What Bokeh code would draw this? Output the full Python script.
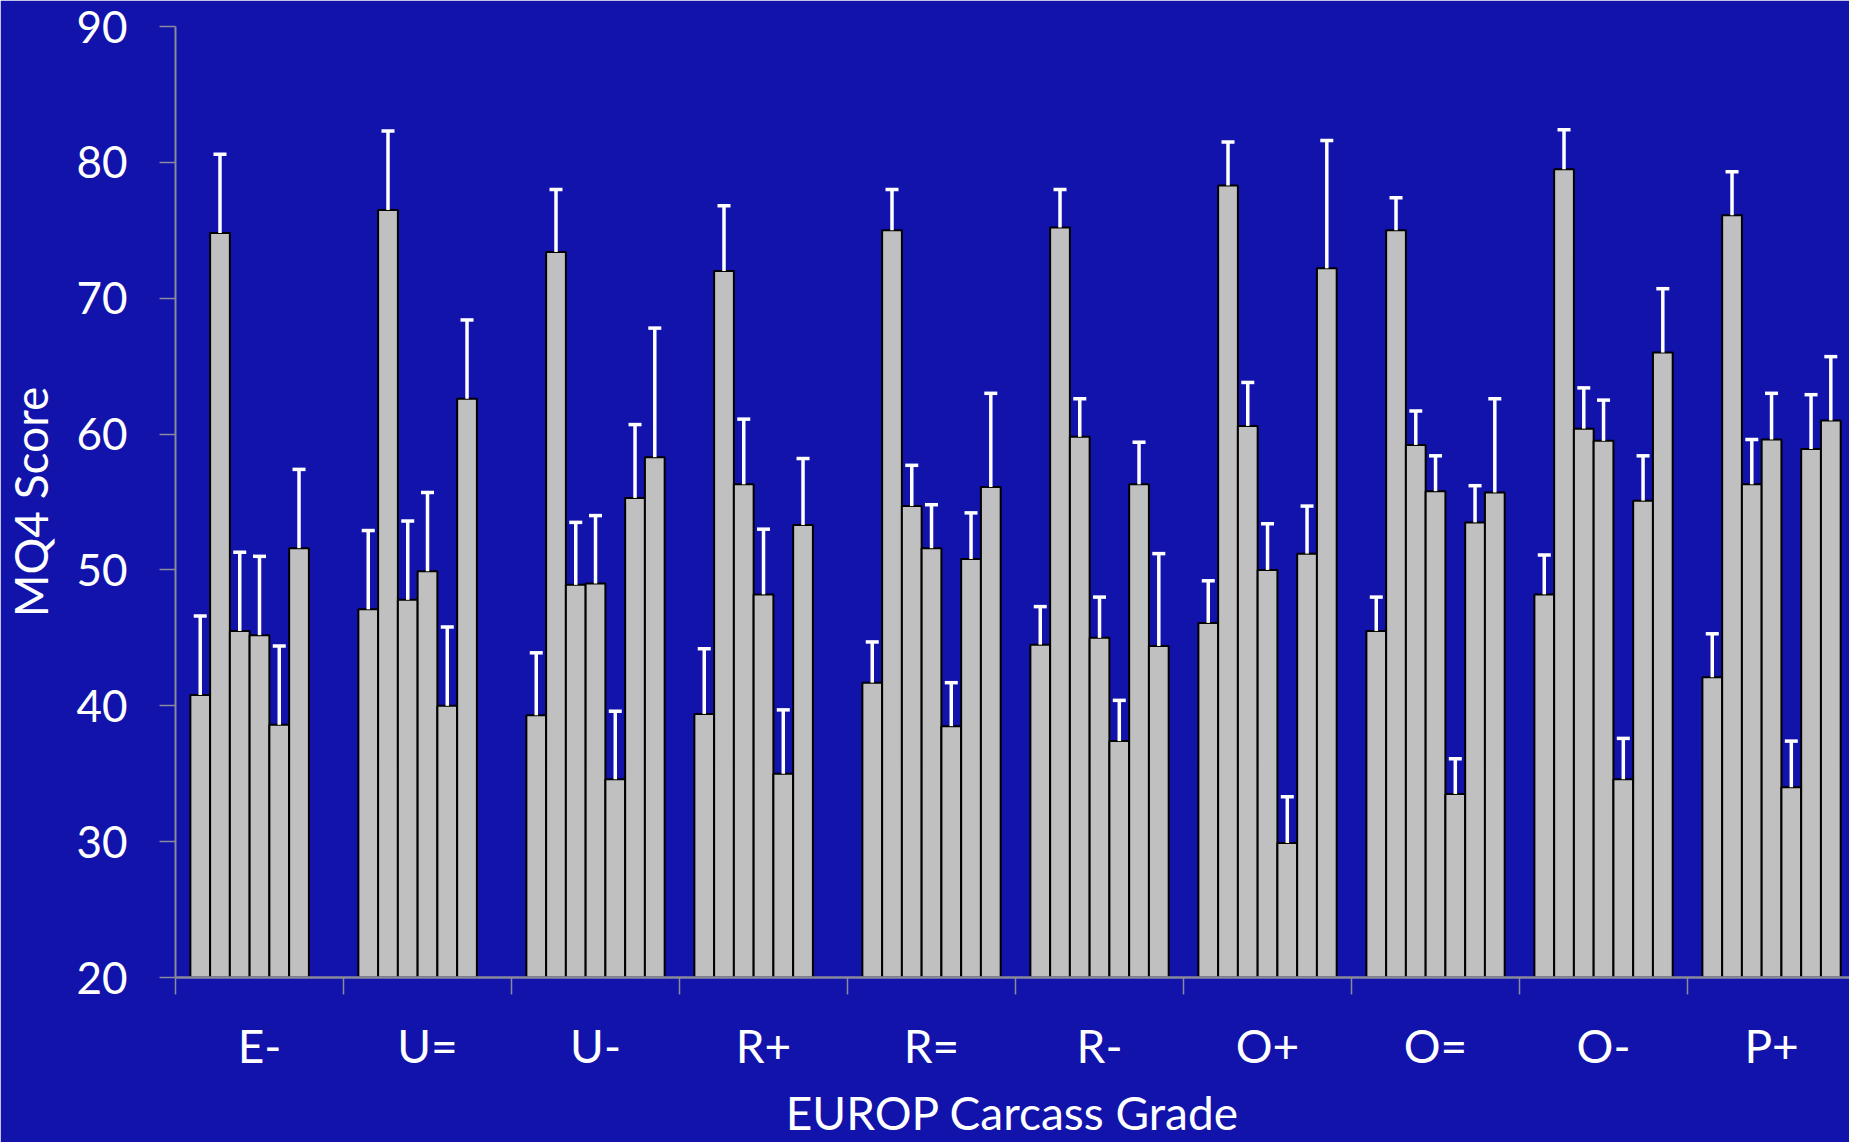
from bokeh.plotting import figure
from bokeh.models import ColumnDataSource, FixedTicker, Range1d, CustomJSTickFormatter
from bokeh.embed import file_html
from bokeh.resources import INLINE

categories = ["E-", "U=", "U-", "R+", "R=", "R-", "O+", "O=", "O-", "P+"]

# Mean MQ4 score for the seven series within each carcass grade (None = no bar)
s1 = [40.8, 47.1, 39.3, 39.4, 41.7, 44.5, 46.1, 45.5, 48.2, 42.1]
s2 = [74.8, 76.5, 73.4, 72.0, 75.0, 75.2, 78.3, 75.0, 79.5, 76.1]
s3 = [45.5, 47.8, 48.9, 56.3, 54.7, 59.8, 60.6, 59.2, 60.4, 56.3]
s4 = [45.2, 49.9, 49.0, 48.2, 51.6, 45.0, 50.0, 55.8, 59.5, 59.6]
s5 = [38.6, 40.0, 34.6, 35.0, 38.5, 37.4, 29.9, 33.5, 34.6, 34.0]
s6 = [51.6, 62.6, 55.3, 53.3, 50.8, 56.3, 51.2, 53.5, 55.1, 58.9]
s7 = [None, None, 58.3, None, 56.1, 44.4, 72.2, 55.7, 66.0, 61.0]

# Upper error (standard error) for each bar
e1 = [5.8, 5.8, 4.6, 4.8, 3.0, 2.8, 3.1, 2.5, 2.9, 3.2]
e2 = [5.8, 5.8, 4.6, 4.8, 3.0, 2.8, 3.2, 2.4, 2.9, 3.2]
e3 = [5.8, 5.8, 4.6, 4.8, 3.0, 2.8, 3.2, 2.5, 3.0, 3.3]
e4 = [5.8, 5.8, 5.0, 4.8, 3.2, 3.0, 3.4, 2.6, 3.0, 3.4]
e5 = [5.8, 5.8, 5.0, 4.7, 3.2, 3.0, 3.4, 2.6, 3.0, 3.4]
e6 = [5.8, 5.8, 5.4, 4.9, 3.4, 3.1, 3.5, 2.7, 3.3, 4.0]
e7 = [None, None, 9.5, None, 6.9, 6.8, 9.4, 6.9, 4.7, 4.7]

y_ticks = [20, 30, 40, 50, 60, 70, 80, 90]

series = [s1, s2, s3, s4, s5, s6, s7]
errors = [e1, e2, e3, e4, e5, e6, e7]

BG = "#1113AA"
AXIS = "#8a8a9a"
FONT = "Lato"

n_series = len(series)
bar_w = 0.1176
group_start = (1.0 - n_series * bar_w) / 2.0

p = figure(width=1849, height=1142, output_backend="svg", toolbar_location=None,
           x_range=Range1d(0, 9.964), y_range=Range1d(20, 90),
           min_border_left=175, min_border_right=0, min_border_top=26, min_border_bottom=164)
p.background_fill_color = BG
p.border_fill_color = BG
p.outline_line_color = BG
p.outline_line_width = 2
p.xgrid.visible = False
p.ygrid.visible = False

for j, (vals, errs) in enumerate(zip(series, errors)):
    xs, tops, ups = [], [], []
    for i, (v, e) in enumerate(zip(vals, errs)):
        if v is None:
            continue
        xs.append(i + group_start + (j + 0.5) * bar_w)
        tops.append(v)
        ups.append(v + e)
    src = ColumnDataSource(dict(x=xs, top=tops, upper=ups))
    p.vbar(x="x", top="top", bottom=20, width=bar_w, source=src,
           fill_color="#c0c0c0", line_color="black", line_width=2)
    p.segment(x0="x", y0="top", x1="x", y1="upper", source=src,
              line_color="white", line_width=3.5)
    p.scatter(x="x", y="upper", source=src, marker="dash", size=13,
              line_color="white", line_width=3.5)

# x axis: labels at category centres, tick marks at category boundaries
xax = p.xaxis[0]
xax.ticker = FixedTicker(ticks=[i + 0.5 for i in range(len(categories))],
                         minor_ticks=list(range(len(categories) + 1)))
xax.formatter = CustomJSTickFormatter(args=dict(labels=categories),
                                      code="return labels[Math.floor(tick)] || '';")
xax.major_tick_line_color = None
xax.minor_tick_line_color = AXIS
xax.minor_tick_line_width = 1.5
xax.minor_tick_in = 0
xax.minor_tick_out = 17
xax.axis_line_color = AXIS
xax.axis_line_width = 2.5
xax.major_label_text_color = "white"
xax.major_label_text_font = FONT
xax.major_label_text_font_size = "46px"
xax.major_label_standoff = 23
xax.axis_label = "EUROP Carcass Grade"
xax.axis_label_text_color = "white"
xax.axis_label_text_font = FONT
xax.axis_label_text_font_size = "46px"
xax.axis_label_text_font_style = "normal"
xax.axis_label_standoff = 9

yax = p.yaxis[0]
yax.ticker = FixedTicker(ticks=y_ticks, minor_ticks=[])
yax.major_tick_in = 0
yax.major_tick_out = 16
yax.major_tick_line_color = AXIS
yax.major_tick_line_width = 1.5
yax.axis_line_color = AXIS
yax.axis_line_width = 2
yax.major_label_text_color = "white"
yax.major_label_text_font = FONT
yax.major_label_text_font_size = "44px"
yax.major_label_standoff = 32
yax.axis_label = "MQ4 Score"
yax.axis_label_text_color = "white"
yax.axis_label_text_font = FONT
yax.axis_label_text_font_size = "46px"
yax.axis_label_text_font_style = "normal"
yax.axis_label_standoff = 15

open("out.html", "w").write(file_html(p, INLINE))
